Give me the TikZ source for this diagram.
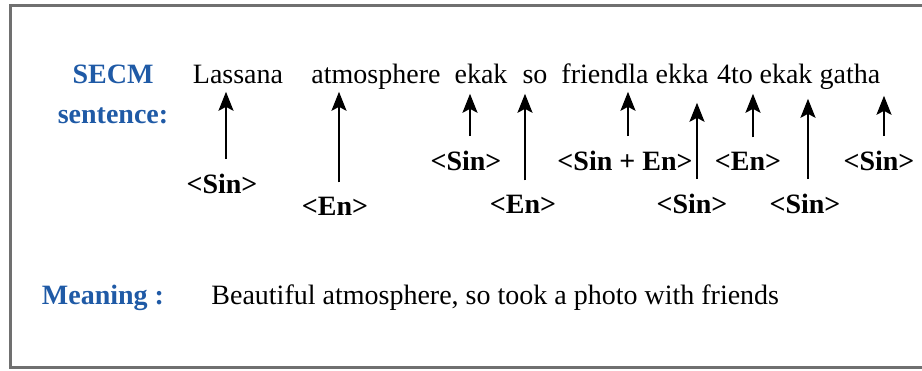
\documentclass[tikz,border=0pt]{standalone}
\usepackage{fontspec}
\setmainfont{Liberation Serif}
\usetikzlibrary{arrows.meta}
\definecolor{SecmBlue}{HTML}{1F5AA6}
\definecolor{FrameGray}{HTML}{707070}

\begin{document}
\begin{tikzpicture}[x=0.5pt, y=-0.5pt,
  word/.style={font=\fontsize{14}{16}\selectfont, anchor=base, inner sep=2pt, text depth=0.22em},
  tag/.style={font=\fontsize{14}{16}\selectfont\bfseries, anchor=base, inner sep=2pt},
  head/.style={font=\fontsize{14}{16}\selectfont\bfseries, text=SecmBlue, anchor=base, inner sep=0pt},
  arrow/.style={-{Stealth[length=9.5pt,width=7.5pt,inset=2pt]}, line width=1pt, shorten <=5pt}
]
\useasboundingbox (0,0) rectangle (922,370);
% frame, open on the right
\draw[FrameGray, line width=1.5pt] (922,5) -- (10,5) -- (10,367) -- (922,367);

% headings
\node[head] (secm) at (113,83) {SECM};
\node[head] (sent) at (113,123) {sentence:};
\node[head] (mean) at (103,304) {Meaning :};

% code-mixed sentence
\node[word] (w1) at (238,83) {Lassana};
\node[word] (w2) at (376,83) {atmosphere};
\node[word] (w3) at (481,83) {ekak};
\node[word] (w4) at (535,83) {so};
\node[word] (w5) at (605,83) {friendla};
\node[word] (w6) at (682,83) {ekka};
\node[word] (w7) at (735,83) {4to};
\node[word] (w8) at (786,83) {ekak};
\node[word] (w9) at (850,83) {gatha};

% language tags
\node[tag] (t1) at (222,193) {<Sin>};
\node[tag] (t2) at (335,215) {<En>};
\node[tag] (t3) at (466,170) {<Sin>};
\node[tag] (t4) at (523,213) {<En>};
\node[tag] (t5) at (625,170) {<Sin + En>};
\node[tag] (t6) at (692,213) {<Sin>};
\node[tag] (t7) at (748,170) {<En>};
\node[tag] (t8) at (805,213) {<Sin>};
\node[tag] (t9) at (879,170) {<Sin>};

\draw[arrow] ([xshift=2pt]t1.north) -- ([xshift=2pt]t1.north |- w1.south);
\draw[arrow] ([xshift=2pt]t2.north) -- ([xshift=2pt]t2.north |- w2.south);
\draw[arrow, shorten >=1pt] ([xshift=2pt]t3.north) -- ([xshift=2pt]t3.north |- w3.south);
\draw[arrow, shorten >=1pt] ([xshift=1pt]t4.north) -- ([xshift=1pt]t4.north |- w4.south);
\draw[arrow] ([xshift=1.5pt]t5.north) -- ([xshift=1.5pt]t5.north |- w5.south);
\draw[arrow, shorten >=5.5pt] ([xshift=2.5pt]t6.north) -- ([xshift=2.5pt]t6.north |- w6.south);
\draw[arrow, shorten >=1pt] ([xshift=2.5pt]t7.north) -- ([xshift=2.5pt]t7.north |- w7.south);
\draw[arrow, shorten >=3.5pt] ([xshift=1.5pt]t8.north) -- ([xshift=1.5pt]t8.north |- w8.south);
\draw[arrow, shorten >=2pt] ([xshift=2.5pt]t9.north) -- ([xshift=2.5pt]t9.north |- w9.south);

% meaning
\node[word, anchor=base west] (gloss) at (207,304) {Beautiful atmosphere, so took a photo with friends};
\end{tikzpicture}
\end{document}
